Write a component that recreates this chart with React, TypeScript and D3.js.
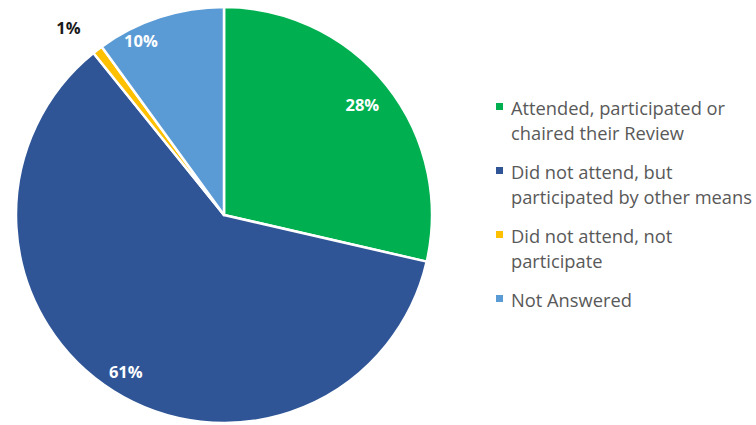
import React from "react";
import * as d3 from "d3";

const categories = [
  "Attended, participated or chaired their Review",
  "Did not attend, but participated by other means",
  "Did not attend, not participate",
  "Not Answered",
];
const values = [28.6, 60.6, 0.8, 10.0];
const labels = ["28%", "61%", "1%", "10%"];
const legendLines = [
  ["Attended, participated or", "chaired their Review"],
  ["Did not attend, but", "participated by other means"],
  ["Did not attend, not", "participate"],
  ["Not Answered"],
];
const colors = ["#00B050", "#2F5597", "#FFC000", "#5B9BD5"];
const labelColors = ["#ffffff", "#ffffff", "#1a1a1a", "#ffffff"];
const labelRadius = [0.85, 0.89, 1.17, 0.93];
const labelAngleShift = [0, 0, -0.04, -0.13];

export default function App() {
  const W = 756, H = 425;
  const cx = 224, cy = 215, r = 208;
  const pie = d3.pie<number>().sort(null).value((d) => d);
  const arcs = pie(values);
  const arc = d3.arc<d3.PieArcDatum<number>>().innerRadius(0).outerRadius(r);
  const font = "'Open Sans', 'Liberation Sans', sans-serif";
  const legendStartY = 107;
  const lineH = 25;
  let y = legendStartY;
  const legendItems = legendLines.map((lines, i) => {
    const item = { y, lines, i };
    y += lines.length * lineH + 14;
    return item;
  });
  return (
    <svg width={W} height={H} style={{ position: "absolute", left: 0, top: 0 }}>
      <rect width={W} height={H} fill="#ffffff" />
      <g transform={`translate(${cx},${cy})`}>
        {arcs.map((a, i) => (
          <path key={i} d={arc(a) || ""} fill={colors[i]} stroke="#ffffff" strokeWidth={2.5} strokeLinejoin="round" />
        ))}
        {arcs.map((a, i) => {
          const mid = (a.startAngle + a.endAngle) / 2 + labelAngleShift[i];
          const rr = r * labelRadius[i];
          const x = Math.sin(mid) * rr;
          const yy = -Math.cos(mid) * rr;
          return (
            <text key={i} x={x} y={yy} textAnchor="middle" dominantBaseline="central"
              fontFamily={font} fontWeight="bold" fontSize={16.5} fill={labelColors[i]}>
              {labels[i]}
            </text>
          );
        })}
      </g>
      <g>
        {legendItems.map((it) => (
          <g key={it.i}>
            <rect x={496} y={it.y - 4} width={7} height={7} fill={colors[it.i]} />
            {it.lines.map((ln, j) => (
              <text key={j} x={511} y={it.y + j * lineH} dominantBaseline="central"
                fontFamily={font} fontSize={18.3} fill="#595959">
                {ln}
              </text>
            ))}
          </g>
        ))}
      </g>
    </svg>
  );
}
